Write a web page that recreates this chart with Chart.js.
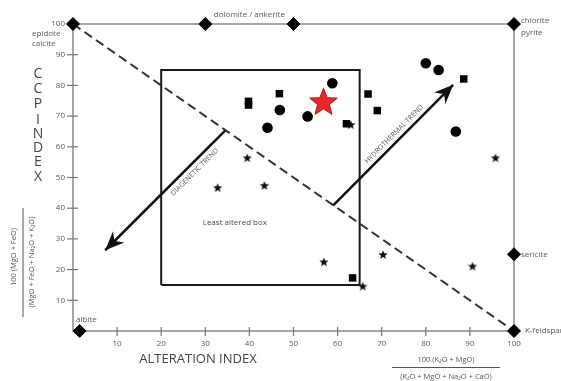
<!DOCTYPE html>
<html>
<head>
<meta charset="utf-8">
<script src="https://cdn.jsdelivr.net/npm/chart.js@4/dist/chart.umd.min.js"></script>
<style>
  html, body { margin: 0; padding: 0; background: #fff; }
  #wrap { position: relative; width: 561px; height: 381px; }
</style>
</head>
<body>
<div id="wrap"><canvas id="box"></canvas></div>
<script>
// Tick labels on the two axes
const aiTicks = [10, 20, 30, 40, 50, 60, 70, 80, 90, 100];
const ccpiTicks = [10, 20, 30, 40, 50, 60, 70, 80, 90, 100];

// Samples: Alteration Index (x) vs CCPI (y)
const circleAI   = [58.8, 46.9, 53.2, 44.1, 80.0, 82.9, 86.8];
const circleCCPI = [80.7, 72.0, 69.9, 66.2, 87.2, 85.0, 65.0];

const squareAI   = [46.8, 39.8, 39.8, 62.0, 66.9, 69.0, 88.6, 63.4];
const squareCCPI = [77.3, 74.8, 73.6, 67.5, 77.2, 71.8, 82.1, 17.3];

const starAI   = [39.5, 32.8, 43.4, 95.8, 56.9, 70.3, 90.6, 65.7, 63.0];
const starCCPI = [56.6, 46.9, 47.6, 56.6, 22.7, 25.1, 21.3, 14.8, 67.4];

const sampleAI   = [56.8];
const sampleCCPI = [74.7];

// Mineral end-members
const mineralAI   = [0, 30, 50, 100, 100, 1.5, 100];
const mineralCCPI = [100, 100, 100, 100, 25, 0, 0];

// Least altered box limits
const boxAI   = [20, 65];
const boxCCPI = [15, 85];

// Trend arrows: start -> tip
const diageneticAI   = [34.5, 7.3];
const diageneticCCPI = [65.3, 26.3];
const hydroAI   = [59.0, 86.2];
const hydroCCPI = [40.9, 80.2];

const pts = (xs, ys) => xs.map((x, i) => ({ x: x, y: ys[i] }));

function makeStar(outer, inner, fill, stroke, lw) {
  const s = Math.ceil(outer * 2 + lw * 2 + 2);
  const c = document.createElement('canvas');
  c.width = s; c.height = s;
  const g = c.getContext('2d');
  g.beginPath();
  for (let i = 0; i < 10; i++) {
    const r = i % 2 === 0 ? outer : inner;
    const a = -Math.PI / 2 + i * Math.PI / 5;
    const px = s / 2 + r * Math.cos(a), py = s / 2 + 1 + r * Math.sin(a);
    if (i === 0) g.moveTo(px, py); else g.lineTo(px, py);
  }
  g.closePath();
  g.fillStyle = fill; g.fill();
  if (lw > 0) { g.lineWidth = lw; g.strokeStyle = stroke; g.stroke(); }
  return c;
}
const smallStar = makeStar(4.8, 2.1, '#111', '#111', 0);
const redStar = makeStar(14.5, 6.2, '#e8272b', '#9c1c1c', 1);

const FONT = "'Open Sans', 'DejaVu Sans', sans-serif";

const decor = {
  id: 'decor',
  afterDatasetsDraw(chart) {
    const ctx = chart.ctx;
    const xs = chart.scales.x, ys = chart.scales.y;
    const X = v => xs.getPixelForValue(v);
    const Y = v => ys.getPixelForValue(v);
    ctx.save();

    // axis ticks
    ctx.strokeStyle = '#777'; ctx.lineWidth = 1.2;
    aiTicks.forEach(t => {
      if (t === 100) return;
      ctx.beginPath(); ctx.moveTo(X(t), Y(0) - 4); ctx.lineTo(X(t), Y(0) + 5); ctx.stroke();
    });
    ccpiTicks.forEach(t => {
      if (t === 100) return;
      ctx.beginPath(); ctx.moveTo(X(0) - 6, Y(t)); ctx.lineTo(X(0) + 5, Y(t)); ctx.stroke();
    });
    ctx.fillStyle = '#5a5a5a';
    ctx.font = '8px ' + FONT;
    ctx.textAlign = 'center'; ctx.textBaseline = 'middle';
    aiTicks.forEach(t => ctx.fillText(String(t), X(t), Y(0) + 13));
    ctx.textAlign = 'right';
    ccpiTicks.forEach(t => ctx.fillText(String(t), X(0) - 8, Y(t)));

    // end-member labels
    ctx.fillStyle = '#5a5a5a';
    ctx.font = '8px ' + FONT;
    ctx.textAlign = 'left';
    ctx.fillText('epidote', X(0) - 41, Y(100) + 10);
    ctx.fillText('calcite', X(0) - 41, Y(100) + 20);
    ctx.textAlign = 'center';
    ctx.fillText('dolomite / ankerite', (X(30) + X(50)) / 2, Y(100) - 9);
    ctx.textAlign = 'left';
    ctx.fillText('chlorite', X(100) + 7, Y(100) - 3);
    ctx.fillText('pyrite', X(100) + 7, Y(100) + 9);
    ctx.fillText('sericite', X(100) + 7, Y(25));
    ctx.fillText('K-feldspar', X(100) + 11, Y(0));
    ctx.fillText('albite', X(0) + 3, Y(0) - 11);

    // box caption
    ctx.fillStyle = '#4a4a4a';
    ctx.textAlign = 'center';
    ctx.fillText('Least altered box', X(36.7), Y(35.3));

    // arrow heads and trend captions
    function arrow(ax, ay, caption, side) {
      const x0 = X(ax[0]), y0 = Y(ay[0]), x1 = X(ax[1]), y1 = Y(ay[1]);
      const ang = Math.atan2(y1 - y0, x1 - x0);
      const L = 19, W = 8, N = 13;
      ctx.save();
      ctx.translate(x1, y1); ctx.rotate(ang);
      ctx.beginPath();
      ctx.moveTo(0, 0); ctx.lineTo(-L, -W); ctx.lineTo(-N, 0); ctx.lineTo(-L, W); ctx.closePath();
      ctx.fillStyle = '#111'; ctx.fill();
      ctx.restore();
      // caption along the line
      const mx = x0 + (x1 - x0) * caption.t, my = y0 + (y1 - y0) * caption.t;
      let ta = ang;
      if (Math.cos(ta) < 0) ta += Math.PI;
      ctx.save();
      ctx.translate(mx, my); ctx.rotate(ta);
      ctx.fillStyle = '#5a5a5a';
      ctx.font = caption.size + 'px ' + FONT;
      ctx.textAlign = 'center'; ctx.textBaseline = 'middle';
      ctx.fillText(caption.text, 0, side * caption.off);
      ctx.restore();
    }
    arrow(diageneticAI, diageneticCCPI, { text: 'DIAGENETIC TREND', t: 0.3, off: 8, size: 7 }, 1);
    arrow(hydroAI, hydroCCPI, { text: 'HYDROTHERMAL TREND', t: 0.55, off: 7, size: 7 }, -1);

    // axis titles
    ctx.fillStyle = '#444';
    ctx.font = '14px ' + FONT;
    ctx.textAlign = 'center'; ctx.textBaseline = 'middle';
    const letters = ['C', 'C', 'P', 'I', 'N', 'D', 'E', 'X'];
    const ly = [74, 89, 104, 120, 134, 148, 162, 177];
    letters.forEach((l, i) => ctx.fillText(l, 38, ly[i]));

    ctx.font = '13px ' + FONT;
    ctx.fillText('ALTERATION INDEX', 198, 359);

    // CCPI formula (rotated)
    ctx.fillStyle = '#555';
    ctx.font = '7.5px ' + FONT;
    ctx.save(); ctx.translate(14, 257); ctx.rotate(-Math.PI / 2);
    ctx.fillText('100 (MgO + FeO)', 0, 0); ctx.restore();
    ctx.strokeStyle = '#555'; ctx.lineWidth = 1;
    ctx.beginPath(); ctx.moveTo(23, 208); ctx.lineTo(23, 317); ctx.stroke();
    ctx.save(); ctx.translate(32, 262); ctx.rotate(-Math.PI / 2);
    ctx.fillText('(MgO + FeO + Na\u2082O + K\u2082O)', 0, 0); ctx.restore();

    // AI formula
    ctx.fillStyle = '#555';
    ctx.font = '7.5px ' + FONT;
    ctx.fillText('100 (K\u2082O + MgO)', 446, 360);
    ctx.strokeStyle = '#555'; ctx.lineWidth = 1;
    ctx.beginPath(); ctx.moveTo(392, 367.5); ctx.lineTo(500, 367.5); ctx.stroke();
    ctx.fillText('(K\u2082O + MgO + Na\u2082O + CaO)', 446, 377);

    ctx.restore();
  }
};

new Chart(document.getElementById('box'), {
  type: 'scatter',
  data: {
    datasets: [
      { // plot frame: left/bottom axes
        data: pts([0, 0, 100], [100, 0, 0]), showLine: true, borderColor: '#888', borderWidth: 1.5,
        pointRadius: 0, clip: false, order: 10
      },
      { // plot frame: top/right edges
        data: pts([0, 100, 100], [100, 100, 0]), showLine: true, borderColor: '#8a8a8a', borderWidth: 1.5,
        pointRadius: 0, clip: false, order: 10
      },
      { // diagonal
        data: pts([0, 100], [100, 0]), showLine: true, borderColor: '#333', borderWidth: 2,
        borderDash: [9, 5], pointRadius: 0, clip: false, order: 9
      },
      { // least altered box
        data: pts([boxAI[0], boxAI[0], boxAI[1], boxAI[1], boxAI[0]],
                  [boxCCPI[0], boxCCPI[1], boxCCPI[1], boxCCPI[0], boxCCPI[0]]),
        showLine: true, borderColor: '#1a1a1a', borderWidth: 2, pointRadius: 0, clip: false, order: 8
      },
      { // diagenetic trend
        data: pts(diageneticAI, diageneticCCPI), showLine: true, borderColor: '#111', borderWidth: 2.5,
        pointRadius: 0, clip: false, order: 7
      },
      { // hydrothermal trend
        data: pts(hydroAI, hydroCCPI), showLine: true, borderColor: '#111', borderWidth: 2.5,
        pointRadius: 0, clip: false, order: 7
      },
      { // end-member minerals
        data: pts(mineralAI, mineralCCPI), pointStyle: 'rectRot', pointRadius: 6.5,
        backgroundColor: '#000', borderColor: '#000', borderWidth: 1, clip: false, order: 3
      },
      {
        data: pts(circleAI, circleCCPI), pointStyle: 'circle', pointRadius: 5.3,
        backgroundColor: '#000', borderColor: '#000', borderWidth: 0, clip: false, order: 2
      },
      {
        data: pts(squareAI, squareCCPI), pointStyle: 'rect', pointRadius: 5.3,
        backgroundColor: '#000', borderColor: '#000', borderWidth: 0, clip: false, order: 2
      },
      {
        data: pts(starAI, starCCPI), pointStyle: smallStar, clip: false, order: 2
      },
      {
        data: pts(sampleAI, sampleCCPI), pointStyle: redStar, clip: false, order: 0
      }
    ]
  },
  options: {
    responsive: true,
    maintainAspectRatio: false,
    animation: false,
    layout: { padding: { left: 73, right: 47, top: 24, bottom: 50 } },
    plugins: { legend: { display: false }, tooltip: { enabled: false } },
    scales: {
      x: { type: 'linear', min: 0, max: 100, display: false },
      y: { type: 'linear', min: 0, max: 100, display: false }
    }
  },
  plugins: [decor]
});
</script>
</body>
</html>
